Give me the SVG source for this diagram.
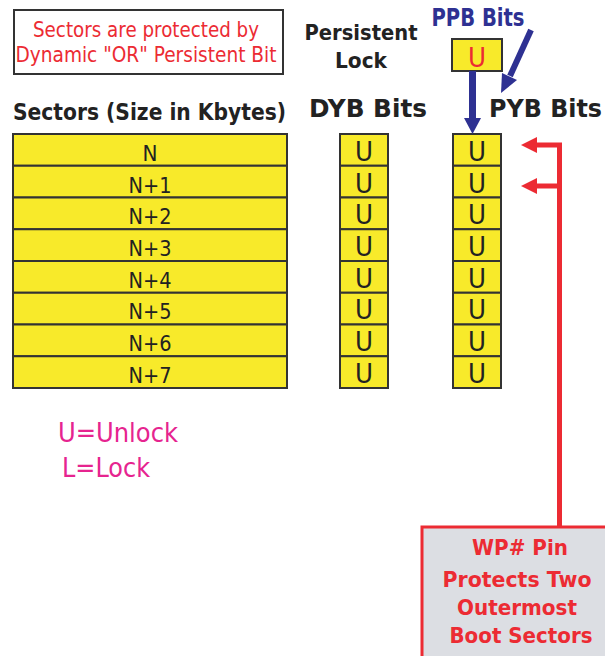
<svg xmlns="http://www.w3.org/2000/svg" width="605" height="656" viewBox="0 0 605 656">
<style>
.cell{fill:#f8ea2a;stroke:#333;stroke-width:2}
.lbl{font-family:"DejaVu Sans",Verdana,sans-serif;font-size:22px;fill:#222;text-anchor:middle}
.u{font-family:"DejaVu Sans",Verdana,sans-serif;font-size:27px;fill:#222;text-anchor:middle}
.hd{font-family:"DejaVu Sans",Verdana,sans-serif;font-weight:bold;fill:#222}
.red{stroke:#ec2b33;fill:none}
.blue{stroke:#2e3192;fill:none}
</style>
<rect width="605" height="656" fill="#fff"/>
<g id="note">
<rect x="14" y="10" width="269" height="64" fill="#fff" stroke="#333" stroke-width="2"/>
<text x="146" y="37" font-family="DejaVu Sans,Verdana,sans-serif" font-size="20.5" fill="#ec2b33" text-anchor="middle" textLength="226" lengthAdjust="spacingAndGlyphs">Sectors are protected by</text>
<text x="146" y="62" font-family="DejaVu Sans,Verdana,sans-serif" font-size="20.5" fill="#ec2b33" text-anchor="middle" textLength="261" lengthAdjust="spacingAndGlyphs">Dynamic "OR" Persistent Bit</text>
</g>
<g id="headers">
<text class="hd" x="13" y="120" font-size="23" textLength="273" lengthAdjust="spacingAndGlyphs">Sectors (Size in Kbytes)</text>
<text class="hd" x="309" y="117" font-size="25" textLength="118" lengthAdjust="spacingAndGlyphs">DYB Bits</text>
<text class="hd" x="489" y="117" font-size="25" textLength="113" lengthAdjust="spacingAndGlyphs">PYB Bits</text>
<text class="hd" x="361" y="40" font-size="22" text-anchor="middle" textLength="113" lengthAdjust="spacingAndGlyphs">Persistent</text>
<text class="hd" x="361" y="68" font-size="22" text-anchor="middle" textLength="52" lengthAdjust="spacingAndGlyphs">Lock</text>
<text x="478" y="26" font-family="DejaVu Sans,Verdana,sans-serif" font-weight="bold" font-size="24" fill="#2e3192" text-anchor="middle" textLength="93" lengthAdjust="spacingAndGlyphs">PPB Bits</text>
</g>
<g id="sectors">
<rect class="cell" x="13" y="134" width="274" height="31.75"/>
<rect class="cell" x="13" y="165.75" width="274" height="31.75"/>
<rect class="cell" x="13" y="197.5" width="274" height="31.75"/>
<rect class="cell" x="13" y="229.25" width="274" height="31.75"/>
<rect class="cell" x="13" y="261" width="274" height="31.75"/>
<rect class="cell" x="13" y="292.75" width="274" height="31.75"/>
<rect class="cell" x="13" y="324.5" width="274" height="31.75"/>
<rect class="cell" x="13" y="356.25" width="274" height="31.75"/>
<text class="lbl" x="150" y="161" textLength="15" lengthAdjust="spacingAndGlyphs">N</text>
<text class="lbl" x="150" y="192.7" textLength="43" lengthAdjust="spacingAndGlyphs">N+1</text>
<text class="lbl" x="150" y="224.4" textLength="43" lengthAdjust="spacingAndGlyphs">N+2</text>
<text class="lbl" x="150" y="256" textLength="43" lengthAdjust="spacingAndGlyphs">N+3</text>
<text class="lbl" x="150" y="287.7" textLength="43" lengthAdjust="spacingAndGlyphs">N+4</text>
<text class="lbl" x="150" y="319.4" textLength="43" lengthAdjust="spacingAndGlyphs">N+5</text>
<text class="lbl" x="150" y="351" textLength="43" lengthAdjust="spacingAndGlyphs">N+6</text>
<text class="lbl" x="150" y="382.7" textLength="43" lengthAdjust="spacingAndGlyphs">N+7</text>
</g>
<g id="dyb">
<rect class="cell" x="340" y="134" width="48" height="31.75"/>
<rect class="cell" x="340" y="165.75" width="48" height="31.75"/>
<rect class="cell" x="340" y="197.5" width="48" height="31.75"/>
<rect class="cell" x="340" y="229.25" width="48" height="31.75"/>
<rect class="cell" x="340" y="261" width="48" height="31.75"/>
<rect class="cell" x="340" y="292.75" width="48" height="31.75"/>
<rect class="cell" x="340" y="324.5" width="48" height="31.75"/>
<rect class="cell" x="340" y="356.25" width="48" height="31.75"/>
<text class="u" x="364" y="161" textLength="18" lengthAdjust="spacingAndGlyphs">U</text>
<text class="u" x="364" y="192.7" textLength="18" lengthAdjust="spacingAndGlyphs">U</text>
<text class="u" x="364" y="224.4" textLength="18" lengthAdjust="spacingAndGlyphs">U</text>
<text class="u" x="364" y="256" textLength="18" lengthAdjust="spacingAndGlyphs">U</text>
<text class="u" x="364" y="287.7" textLength="18" lengthAdjust="spacingAndGlyphs">U</text>
<text class="u" x="364" y="319.4" textLength="18" lengthAdjust="spacingAndGlyphs">U</text>
<text class="u" x="364" y="351" textLength="18" lengthAdjust="spacingAndGlyphs">U</text>
<text class="u" x="364" y="382.7" textLength="18" lengthAdjust="spacingAndGlyphs">U</text>
</g>
<g id="pyb">
<rect class="cell" x="453" y="134" width="48" height="31.75"/>
<rect class="cell" x="453" y="165.75" width="48" height="31.75"/>
<rect class="cell" x="453" y="197.5" width="48" height="31.75"/>
<rect class="cell" x="453" y="229.25" width="48" height="31.75"/>
<rect class="cell" x="453" y="261" width="48" height="31.75"/>
<rect class="cell" x="453" y="292.75" width="48" height="31.75"/>
<rect class="cell" x="453" y="324.5" width="48" height="31.75"/>
<rect class="cell" x="453" y="356.25" width="48" height="31.75"/>
<text class="u" x="477" y="161" textLength="18" lengthAdjust="spacingAndGlyphs">U</text>
<text class="u" x="477" y="192.7" textLength="18" lengthAdjust="spacingAndGlyphs">U</text>
<text class="u" x="477" y="224.4" textLength="18" lengthAdjust="spacingAndGlyphs">U</text>
<text class="u" x="477" y="256" textLength="18" lengthAdjust="spacingAndGlyphs">U</text>
<text class="u" x="477" y="287.7" textLength="18" lengthAdjust="spacingAndGlyphs">U</text>
<text class="u" x="477" y="319.4" textLength="18" lengthAdjust="spacingAndGlyphs">U</text>
<text class="u" x="477" y="351" textLength="18" lengthAdjust="spacingAndGlyphs">U</text>
<text class="u" x="477" y="382.7" textLength="18" lengthAdjust="spacingAndGlyphs">U</text>
</g>
<g id="ppb">
<rect class="cell" x="452" y="39" width="50" height="32"/>
<text x="477" y="67" font-family="DejaVu Sans,Verdana,sans-serif" font-size="27" fill="#ec2b33" text-anchor="middle" textLength="18" lengthAdjust="spacingAndGlyphs">U</text>
</g>
<g id="legend">
<text x="58" y="442" font-family="DejaVu Sans,Verdana,sans-serif" font-size="27" fill="#e6248f" textLength="120" lengthAdjust="spacingAndGlyphs">U=Unlock</text>
<text x="62" y="477" font-family="DejaVu Sans,Verdana,sans-serif" font-size="27" fill="#e6248f" textLength="88" lengthAdjust="spacingAndGlyphs">L=Lock</text>
</g>
<g id="wp">
<rect x="422" y="527" width="190" height="135" fill="#dcdee3" stroke="#ec2b33" stroke-width="3"/>
<g font-family="DejaVu Sans,Verdana,sans-serif" font-weight="bold" font-size="22" fill="#ec2b33" text-anchor="middle">
<text x="520" y="555" textLength="96" lengthAdjust="spacingAndGlyphs">WP# Pin</text>
<text x="517" y="587" textLength="149" lengthAdjust="spacingAndGlyphs">Protects Two</text>
<text x="517" y="615" textLength="120" lengthAdjust="spacingAndGlyphs">Outermost</text>
<text x="521" y="643" textLength="143" lengthAdjust="spacingAndGlyphs">Boot Sectors</text>
</g>
</g>
<g id="connectors">
<line class="blue" x1="472.5" y1="71" x2="472.5" y2="119" stroke-width="7"/>
<polygon points="464,118 481,118 472.5,134" fill="#2e3192"/>
<line class="blue" x1="531" y1="30" x2="510" y2="76" stroke-width="6"/>
<polygon points="501,93 502,73 517,80" fill="#2e3192"/>
<polyline class="red" points="559.5,527 559.5,145 536,145" stroke-width="5"/>
<line class="red" x1="559.5" y1="186" x2="536" y2="186" stroke-width="5"/>
<polygon points="521,145 537,137 537,153" fill="#ec2b33"/>
<polygon points="521,186 537,178 537,194" fill="#ec2b33"/>
</g>
</svg>
